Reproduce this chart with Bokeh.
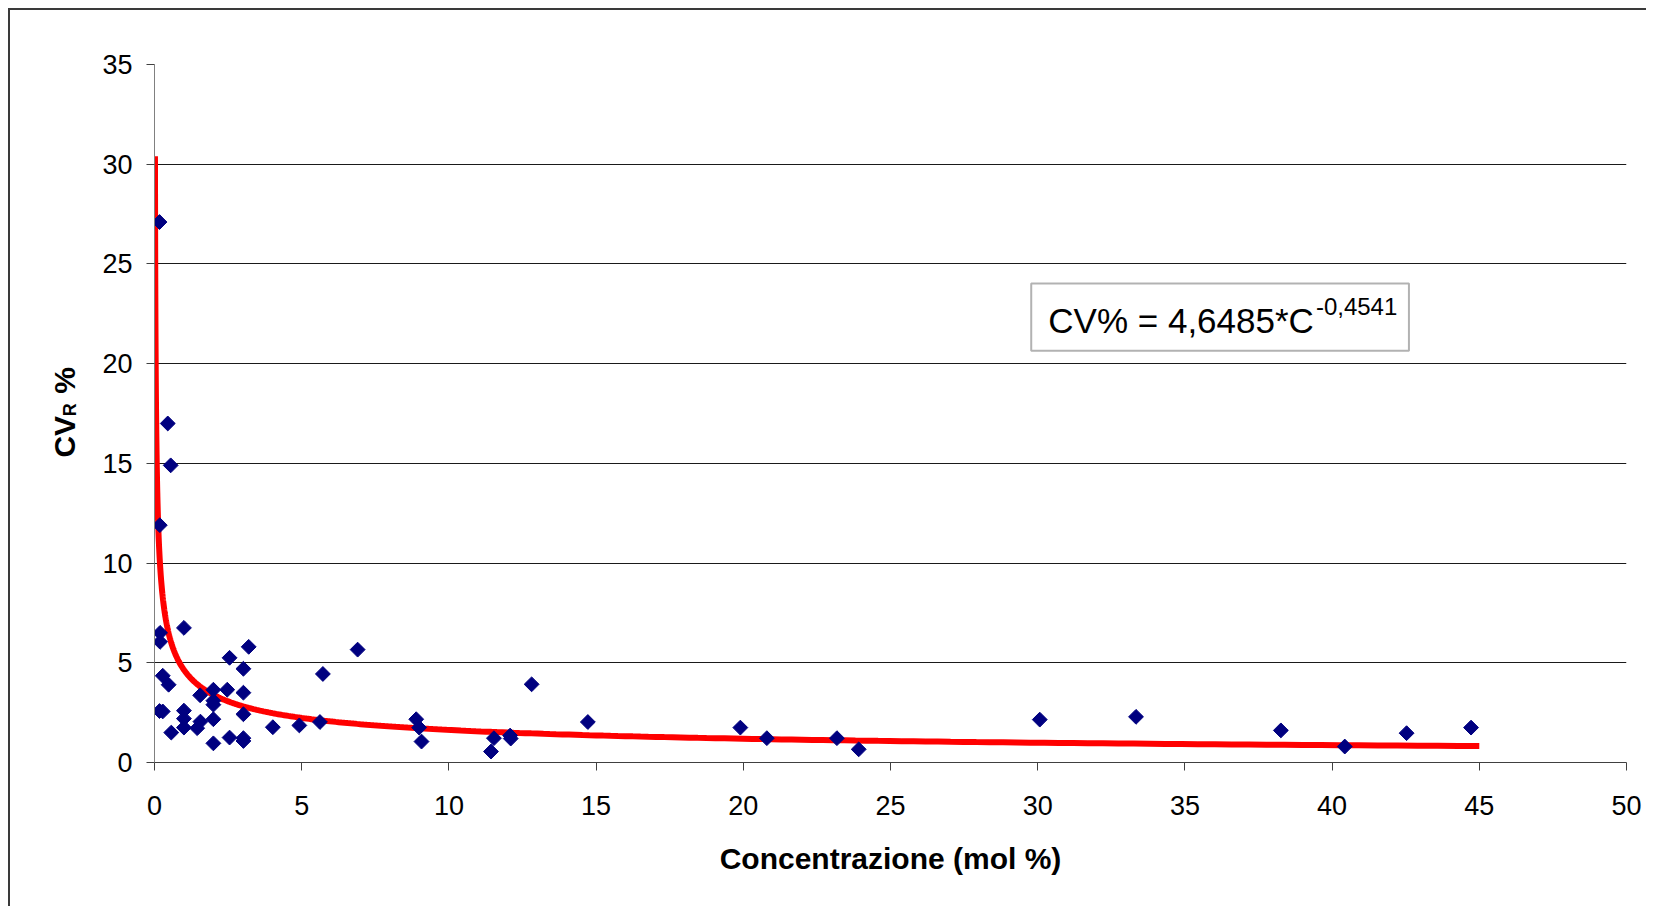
import numpy as np
from bokeh.plotting import figure
from bokeh.models import Range1d, FixedTicker, Label, BoxAnnotation, ColumnDataSource
from bokeh.embed import file_html
from bokeh.resources import INLINE

# ---- data ----
conc = [0.17, 0.45, 0.55, 0.18, 0.19, 0.19, 1.00, 3.20, 2.55, 3.02,
        0.28, 0.48, 1.55, 2.00, 2.47, 3.02, 2.00, 2.00, 0.17, 0.28,
        1.00, 1.00, 1.00, 1.56, 1.45, 2.00, 3.02, 0.57, 4.02, 2.00,
        2.55, 3.02, 3.02, 4.92, 5.62, 5.72, 6.90, 8.89, 8.99, 9.07,
        11.43, 11.53, 12.08, 12.10, 12.81, 14.72, 19.90, 20.80, 23.18, 23.92,
        30.07, 33.34, 38.26, 40.43, 42.53, 44.72]
cv_r = [27.10, 17.00, 14.90, 11.90, 6.50, 6.05, 6.75, 5.80, 5.25, 4.70,
        4.35, 3.90, 3.37, 3.65, 3.65, 3.50, 3.10, 2.90, 2.58, 2.56,
        2.60, 2.20, 1.75, 2.05, 1.72, 2.17, 2.42, 1.50, 1.77, 0.96,
        1.25, 1.22, 1.08, 1.86, 2.03, 4.44, 5.66, 2.17, 1.75, 1.05,
        0.55, 1.22, 1.35, 1.20, 3.92, 2.03, 1.75, 1.22, 1.22, 0.66,
        2.15, 2.29, 1.61, 0.80, 1.47, 1.75]

# power trendline shown on the chart: CV% = 4,6485*C^-0,4541
TREND_A = 4.6485
TREND_B = -0.4541
TREND_X_START = 0.016
TREND_X_END = 45.0

x_ticks = [0, 5, 10, 15, 20, 25, 30, 35, 40, 45, 50]
y_ticks = [0, 5, 10, 15, 20, 25, 30, 35]

x_title = "Concentrazione (mol %)"
y_title_main = "CV"
y_title_sub = "R"
y_title_unit = "%"
eq_main = "CV% = 4,6485*C"
eq_exp = "-0,4541"

FONT = "Liberation Sans"

p = figure(width=1636, height=896, output_backend="svg", toolbar_location=None,
           x_range=Range1d(0, 50), y_range=Range1d(0, 35),
           min_border_left=144, min_border_right=22,
           min_border_top=54, min_border_bottom=146)
p.styles = {"border-left": "2px solid #3a3a3a", "border-top": "2px solid #3a3a3a",
            "box-sizing": "content-box", "margin-left": "8px", "margin-top": "8px"}
p.outline_line_color = None
p.background_fill_color = "white"
p.border_fill_color = "white"

p.xgrid.visible = False
p.ygrid.ticker = FixedTicker(ticks=y_ticks)
p.ygrid.grid_line_color = "#1a1a1a"
p.ygrid.grid_line_width = 1

# axes
p.xaxis.ticker = FixedTicker(ticks=x_ticks)
p.yaxis.ticker = FixedTicker(ticks=y_ticks)
for ax in (p.xaxis[0], p.yaxis[0]):
    ax.major_tick_in = 0
    ax.major_tick_out = 8
    ax.minor_tick_line_color = None
    ax.major_label_text_font = FONT
    ax.major_label_text_font_size = "27px"
    ax.major_label_text_color = "black"
p.xaxis.axis_line_color = "#404040"
p.xaxis.major_tick_line_color = "#404040"
p.yaxis.axis_line_color = "#808080"
p.yaxis.major_tick_line_color = "#404040"
p.yaxis.major_label_standoff = 14
p.xaxis.major_label_standoff = 25

p.xaxis.axis_label = x_title
p.xaxis.axis_label_text_font = FONT
p.xaxis.axis_label_text_font_style = "bold"
p.xaxis.axis_label_text_font_size = "30px"
p.xaxis.axis_label_text_color = "black"
p.xaxis.axis_label_standoff = 24

# trendline
tx = np.geomspace(TREND_X_START, TREND_X_END, 500)
ty = TREND_A * tx ** TREND_B
p.line(tx, ty, line_color="#ff0000", line_width=6)

# data points (diamonds)
src = ColumnDataSource(dict(x=conc, y=cv_r))
p.scatter("x", "y", source=src, marker="square", angle=np.pi / 4, size=10.5,
          fill_color="#000080", line_color="#000080")

# y axis title "CV_R %" (rotated, with subscript R), placed in the left panel
def vlabel(x, y, text, size):
    return Label(x=x, y=y, text=text, angle=np.pi / 2,
                 text_align="left", text_baseline="alphabetic",
                 text_font=FONT, text_font_style="bold", text_font_size=size,
                 text_color="black")

p.add_layout(vlabel(-3.07, 15.29, y_title_main, "30px"), "left")
p.add_layout(vlabel(-2.87, 17.36, y_title_sub, "18px"), "left")
p.add_layout(vlabel(-3.07, 18.49, y_title_unit, "30px"), "left")

# equation box
p.add_layout(BoxAnnotation(left=29.78, right=42.61, bottom=20.65, top=24.02,
                           fill_color="white", fill_alpha=1.0,
                           line_color="black", line_width=2, level="overlay"))
p.add_layout(Label(x=30.36, y=22.15, text=eq_main, text_align="left",
                   text_baseline="alphabetic", text_font=FONT,
                   text_font_size="35px", text_color="black", level="overlay"))
p.add_layout(Label(x=39.45, y=22.87, text=eq_exp, text_align="left",
                   text_baseline="alphabetic", text_font=FONT,
                   text_font_size="24px", text_color="black", level="overlay"))

open("out.html", "w").write(file_html(p, INLINE))
